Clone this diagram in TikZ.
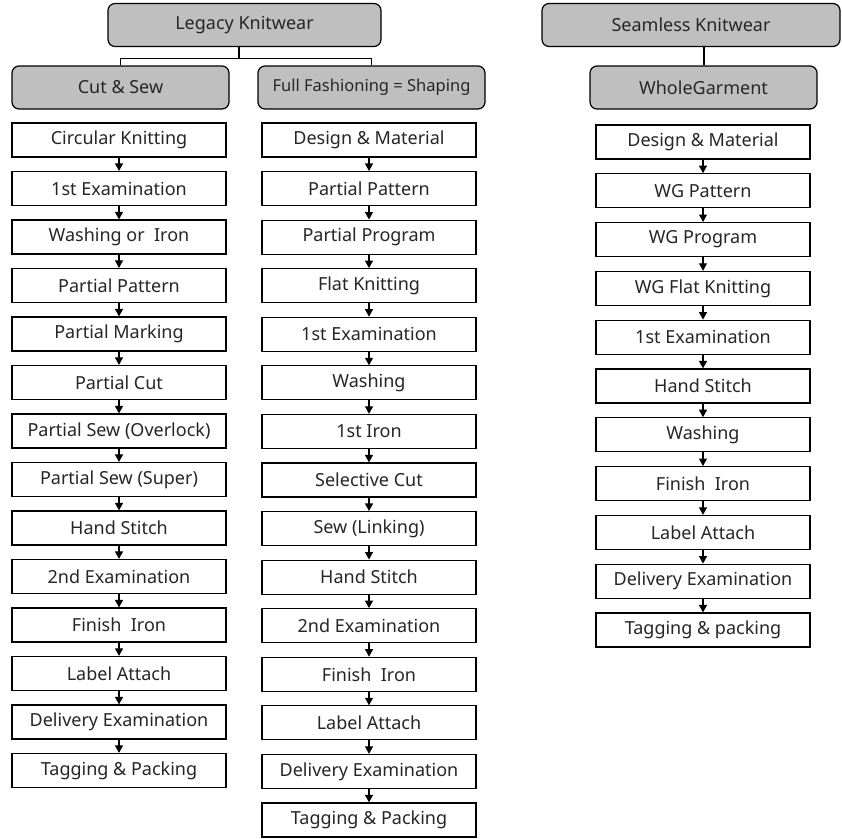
\documentclass[tikz,border=0pt]{standalone}
\usepackage{fontspec}
\setmainfont{Noto Sans}
\usetikzlibrary{arrows.meta}
\begin{document}
\begin{tikzpicture}[x=1pt,y=-1pt,
  every node/.style={font=\fontsize{18}{21}\selectfont, text=black!85},
  head/.style={draw, line width=1.2pt, rounded corners=7pt, fill=black!25, minimum height=43pt, inner sep=0pt},
  stepbox/.style={draw, line width=1.2pt, fill=white, minimum width=214pt, minimum height=34pt, inner sep=0pt},
  flow/.style={line width=1.1pt, -{Triangle[width=8pt,length=7.5pt]}},
  link/.style={line width=1.2pt}]
\useasboundingbox (0,0) rectangle (842,838);
% headers
\node[head, minimum width=273pt] (leg) at (244.5,25) {Legacy Knitwear};
\node[head, minimum width=298pt] (sea) at (691,25) {Seamless Knitwear};
\node[head, minimum width=217pt] (cs) at (120.5,87.5) {Cut \& Sew};
\node[head, minimum width=227pt] (ff) at (371.5,87.5) {\fontsize{16.5}{19}\selectfont Full Fashioning = Shaping};
\node[head, minimum width=227pt] (wg) at (703.5,87.5) {WholeGarment};
\draw[link] ([xshift=-5.5pt]leg.south) -- ++(0,11) coordinate (j);
\draw[link] (cs.north) |- (j) -| (ff.north);
\draw[link] ([xshift=13pt]sea.south) -- ([xshift=0.5pt]wg.north);
% left column
\foreach \t [count=\i from 0] in {Circular Knitting, 1st Examination, Washing or\ \ Iron, Partial Pattern, Partial Marking, Partial Cut, Partial Sew (Overlock), Partial Sew (Super), Hand Stitch, 2nd Examination, Finish\ \ Iron, Label Attach, Delivery Examination, Tagging \& Packing}
  \node[stepbox] (L\i) at (119,{140+48.5*\i}) {\t};
\foreach \i [evaluate=\i as \j using int(\i+1)] in {0,...,12}
  \draw[flow] (L\i) -- (L\j);
% middle column
\foreach \t [count=\i from 0] in {Design \& Material, Partial Pattern, Partial Program, Flat Knitting, 1st Examination, Washing, 1st Iron, Selective Cut, Sew (Linking), Hand Stitch, 2nd Examination, Finish\ \ Iron, Label Attach, Delivery Examination, Tagging \& Packing}
  \node[stepbox] (M\i) at (369,{140+48.57*\i}) {\t};
\foreach \i [evaluate=\i as \j using int(\i+1)] in {0,...,13}
  \draw[flow] (M\i) -- (M\j);
% right column
\foreach \t [count=\i from 0] in {Design \& Material, WG Pattern, WG Program, WG Flat Knitting, 1st Examination, Hand Stitch, Washing, Finish\ \ Iron, Label Attach, Delivery Examination, Tagging \& packing}
  \node[stepbox] (R\i) at (703,{142+48.8*\i}) {\t};
\foreach \i [evaluate=\i as \j using int(\i+1)] in {0,...,9}
  \draw[flow] (R\i) -- (R\j);
\end{tikzpicture}
\end{document}
